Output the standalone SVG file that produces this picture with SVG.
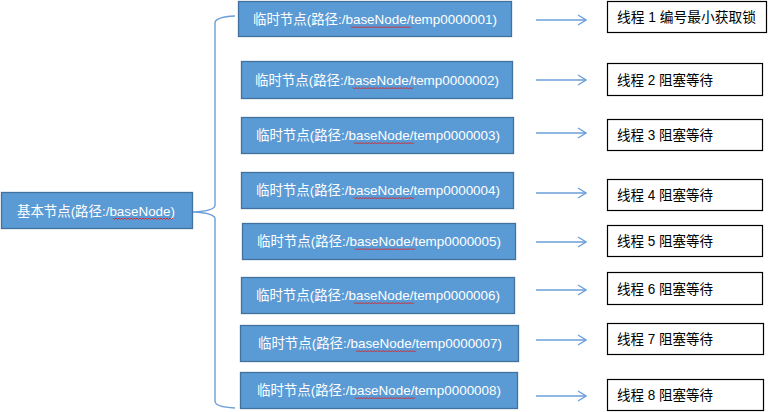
<svg xmlns="http://www.w3.org/2000/svg" width="768" height="412" viewBox="0 0 768 412">
<defs>
<style>
.blue{fill:#5b9bd5;stroke:#41719c;stroke-width:1.3}
.wt{fill:#ffffff;font-family:"Liberation Sans","Noto Sans CJK SC",sans-serif;font-size:13.5px;text-anchor:middle}
.bk{fill:#000000;font-family:"Liberation Sans","Noto Sans CJK SC",sans-serif;font-size:14px}
.white{fill:#ffffff;stroke:#000000;stroke-width:1.2}
.sq{fill:none;stroke:#e02020;stroke-width:0.9}
.conn{fill:none;stroke:#6a9fd8;stroke-width:1.4}
</style>
<marker id="ah" viewBox="0 0 10 12" refX="9" refY="6" markerWidth="10" markerHeight="12" markerUnits="userSpaceOnUse" orient="auto">
<path d="M1,1 L9,6 L1,11" fill="none" stroke="#6a9fd8" stroke-width="1.3"/>
</marker>
<path id="squig" d="M0,0 l1.5,1.5 l1.5,-1.5 l1.5,1.5 l1.5,-1.5 l1.5,1.5 l1.5,-1.5 l1.5,1.5 l1.5,-1.5 l1.5,1.5 l1.5,-1.5 l1.5,1.5 l1.5,-1.5 l1.5,1.5 l1.5,-1.5 l1.5,1.5 l1.5,-1.5 l1.5,1.5 l1.5,-1.5 l1.5,1.5 l1.5,-1.5 l1.5,1.5 l1.5,-1.5 l1.5,1.5 l1.5,-1.5 l1.5,1.5 l1.5,-1.5 l1.5,1.5 l1.5,-1.5 l1.5,1.5 l1.5,-1.5 l1.5,1.5 l1.5,-1.5 l1.5,1.5 l1.5,-1.5 l1.5,1.5 l1.5,-1.5 l1.5,1.5 l1.5,-1.5 l1.5,1.5 l1.5,-1.5" class="sq"/>
</defs>
<rect width="768" height="412" fill="#ffffff"/>

<g id="connectors">
<path class="conn" d="M235,16 Q215,17 215,23 L215,205 Q215,211 193,212 Q215,213 215,219 L215,401 Q215,407 235,408"/>
<line class="conn" x1="536" y1="20" x2="586" y2="20" marker-end="url(#ah)"/>
<line class="conn" x1="536" y1="80" x2="586" y2="80" marker-end="url(#ah)"/>
<line class="conn" x1="536" y1="133" x2="586" y2="133" marker-end="url(#ah)"/>
<line class="conn" x1="536" y1="193" x2="586" y2="193" marker-end="url(#ah)"/>
<line class="conn" x1="536" y1="242" x2="586" y2="242" marker-end="url(#ah)"/>
<line class="conn" x1="536" y1="290" x2="586" y2="290" marker-end="url(#ah)"/>
<line class="conn" x1="536" y1="340" x2="586" y2="340" marker-end="url(#ah)"/>
<line class="conn" x1="536" y1="396" x2="586" y2="396" marker-end="url(#ah)"/>
</g>

<g id="base">
<rect class="blue" x="1.5" y="192.5" width="191" height="36"/>
<text class="wt" x="96" y="215.5" textLength="158" lengthAdjust="spacingAndGlyphs">基本节点(路径:/baseNode)</text>
<use href="#squig" x="113" y="218"/>
</g>

<g id="temp1">
<rect class="blue" x="238.5" y="1.5" width="273" height="35"/>
<text class="wt" x="375" y="24" textLength="244" lengthAdjust="spacingAndGlyphs">临时节点(路径:/baseNode/temp0000001)</text>
<use href="#squig" x="351" y="26.5" transform="scale(1)"/>
</g>
<g id="temp2">
<rect class="blue" x="241.5" y="61.5" width="271" height="37"/>
<text class="wt" x="377" y="85" textLength="244" lengthAdjust="spacingAndGlyphs">临时节点(路径:/baseNode/temp0000002)</text>
<use href="#squig" x="353" y="87.5"/>
</g>
<g id="temp3">
<rect class="blue" x="241.5" y="117.5" width="272" height="36"/>
<text class="wt" x="378" y="140" textLength="244" lengthAdjust="spacingAndGlyphs">临时节点(路径:/baseNode/temp0000003)</text>
<use href="#squig" x="354" y="142.5"/>
</g>
<g id="temp4">
<rect class="blue" x="241.5" y="172.5" width="272" height="36"/>
<text class="wt" x="378" y="195" textLength="244" lengthAdjust="spacingAndGlyphs">临时节点(路径:/baseNode/temp0000004)</text>
<use href="#squig" x="354" y="197.5"/>
</g>
<g id="temp5">
<rect class="blue" x="242.5" y="223.5" width="273" height="36"/>
<text class="wt" x="379" y="246" textLength="244" lengthAdjust="spacingAndGlyphs">临时节点(路径:/baseNode/temp0000005)</text>
<use href="#squig" x="355" y="248.5"/>
</g>
<g id="temp6">
<rect class="blue" x="241.5" y="277.5" width="273" height="36"/>
<text class="wt" x="378" y="300" textLength="244" lengthAdjust="spacingAndGlyphs">临时节点(路径:/baseNode/temp0000006)</text>
<use href="#squig" x="354" y="302.5"/>
</g>
<g id="temp7">
<rect class="blue" x="240.5" y="325.5" width="278" height="36"/>
<text class="wt" x="380" y="348" textLength="244" lengthAdjust="spacingAndGlyphs">临时节点(路径:/baseNode/temp0000007)</text>
<use href="#squig" x="356" y="350.5"/>
</g>
<g id="temp8">
<rect class="blue" x="240.5" y="372.5" width="277" height="36"/>
<text class="wt" x="379" y="395" textLength="244" lengthAdjust="spacingAndGlyphs">临时节点(路径:/baseNode/temp0000008)</text>
<use href="#squig" x="355" y="397.5"/>
</g>

<g id="thread1">
<rect class="white" x="607.5" y="1.5" width="159" height="31"/>
<text class="bk" x="617" y="22" textLength="139" lengthAdjust="spacingAndGlyphs">线程 1 编号最小获取锁</text>
</g>
<g id="thread2">
<rect class="white" x="607.5" y="63.5" width="155" height="32"/>
<text class="bk" x="617" y="84.5" textLength="96" lengthAdjust="spacingAndGlyphs">线程 2 阻塞等待</text>
</g>
<g id="thread3">
<rect class="white" x="607.5" y="119.5" width="155" height="31"/>
<text class="bk" x="617" y="140" textLength="96" lengthAdjust="spacingAndGlyphs">线程 3 阻塞等待</text>
</g>
<g id="thread4">
<rect class="white" x="607.5" y="179.5" width="155" height="31"/>
<text class="bk" x="617" y="200" textLength="96" lengthAdjust="spacingAndGlyphs">线程 4 阻塞等待</text>
</g>
<g id="thread5">
<rect class="white" x="607.5" y="225.5" width="155" height="31"/>
<text class="bk" x="617" y="246" textLength="96" lengthAdjust="spacingAndGlyphs">线程 5 阻塞等待</text>
</g>
<g id="thread6">
<rect class="white" x="607.5" y="272.5" width="155" height="32"/>
<text class="bk" x="617" y="293.5" textLength="96" lengthAdjust="spacingAndGlyphs">线程 6 阻塞等待</text>
</g>
<g id="thread7">
<rect class="white" x="607.5" y="323.5" width="156" height="31"/>
<text class="bk" x="617" y="344" textLength="96" lengthAdjust="spacingAndGlyphs">线程 7 阻塞等待</text>
</g>
<g id="thread8">
<rect class="white" x="607.5" y="379.5" width="156" height="31"/>
<text class="bk" x="617" y="400" textLength="96" lengthAdjust="spacingAndGlyphs">线程 8 阻塞等待</text>
</g>
</svg>
